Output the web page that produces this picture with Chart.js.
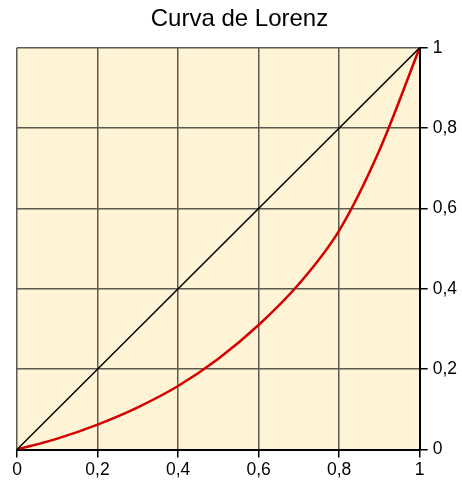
<!DOCTYPE html>
<html>
<head>
<meta charset="utf-8">
<script src="https://cdn.jsdelivr.net/npm/chart.js@4"></script>
<style>
  html, body { margin: 0; padding: 0; background: #fff; }
  #wrap { width: 462px; height: 483px; }
</style>
</head>
<body>
<div id="wrap"><canvas id="lorenz"></canvas></div>
<script>
const popShare = [0, 0.1, 0.2, 0.3, 0.4, 0.5, 0.6, 0.7, 0.8, 0.9, 1];
const incomeShare = [0, 0.027, 0.062, 0.105, 0.158, 0.226, 0.31, 0.412, 0.545, 0.745, 1];
const equality = [0, 1];
const tickValues = [0, 0.2, 0.4, 0.6, 0.8, 1];

const fmt = (v) => String(Number(v.toFixed(1))).replace(".", ",");

const areaFill = {
  id: "areaFill",
  beforeDraw(chart) {
    const { ctx, chartArea: a } = chart;
    ctx.save();
    ctx.fillStyle = "#fff5d6";
    ctx.fillRect(a.left, a.top, a.right - a.left, a.bottom - a.top);
    ctx.restore();
  },
};

const ctx = document.getElementById("lorenz");
new Chart(ctx, {
  type: "line",
  data: {
    datasets: [
      {
        label: "Igualdad",
        data: equality.map((v) => ({ x: v, y: v })),
        borderColor: "#000",
        borderWidth: 1.5,
        pointRadius: 0,
      },
      {
        label: "Lorenz",
        data: popShare.map((x, i) => ({ x: x, y: incomeShare[i] })),
        borderColor: "#d40000",
        borderWidth: 2.5,
        pointRadius: 0,
        cubicInterpolationMode: "monotone",
      },
    ],
  },
  options: {
    responsive: true,
    maintainAspectRatio: false,
    animation: false,
    layout: { padding: { left: 17, right: 0, top: 0, bottom: 0 } },
    plugins: {
      legend: { display: false },
      tooltip: { enabled: false },
      title: {
        display: true,
        text: "Curva de Lorenz",
        color: "#000",
        font: { family: "Liberation Sans", size: 24, weight: "normal" },
        padding: { top: 5, bottom: 14 },
      },
    },
    scales: {
      x: {
        type: "linear",
        min: 0,
        max: 1,
        afterBuildTicks: (s) => { s.ticks = tickValues.map((v) => ({ value: v })); },
        ticks: {
          callback: fmt,
          color: "#000",
          font: { family: "Liberation Sans", size: 17.5, lineHeight: 1 },
          padding: 4,
          maxRotation: 0,
        },
        grid: { color: "#5a5a50", lineWidth: 1.5, tickLength: 8, tickColor: "#000" },
        border: { color: "#000", width: 2 },
      },
      y: {
        position: "right",
        min: 0,
        max: 1,
        afterBuildTicks: (s) => { s.ticks = tickValues.map((v) => ({ value: v })); },
        ticks: {
          callback: fmt,
          color: "#000",
          font: { family: "Liberation Sans", size: 17.5 },
          padding: 5,
        },
        grid: { color: "#5a5a50", lineWidth: 1.5, tickLength: 8, tickColor: "#000" },
        border: { color: "#000", width: 2 },
      },
    },
  },
  plugins: [areaFill],
});
</script>
</body>
</html>
